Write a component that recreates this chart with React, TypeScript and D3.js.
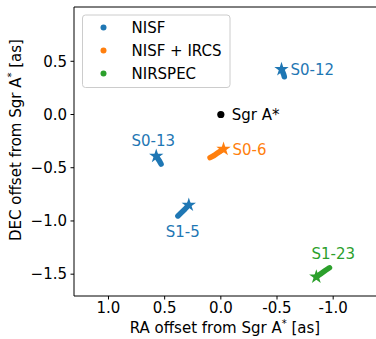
import React from "react";
import * as d3 from "d3";

const W = 376, H = 339;
const margin = { left: 74, top: 7, right: 0, bottom: 296 };

const xDomain = [1.307, -1.39];
const yDomain = [-1.705, 1.01];

const xTicks = [1.0, 0.5, 0.0, -0.5, -1.0];
const xTickLabels = ["1.0", "0.5", "0.0", "-0.5", "-1.0"];
const yTicks = [0.5, 0.0, -0.5, -1.0, -1.5];
const yTickLabels = ["0.5", "0.0", "\u22120.5", "\u22121.0", "\u22121.5"];

const legendNames = ["NISF", "NISF + IRCS", "NIRSPEC"];
const legendColors = ["#1f77b4", "#ff7f0e", "#2ca02c"];

// star names, instrument index, star (current) position, trail points [RA, DEC]
const starNames = ["S0-12", "S0-13", "S1-5", "S0-6", "S1-23"];
const starGroup = [0, 0, 0, 1, 2];
const starRA = [-0.54, 0.575, 0.285, -0.024, -0.85];
const starDEC = [0.425, -0.39, -0.85, -0.325, -1.525];
const trailRA = [
  [-0.54, -0.55, -0.56, -0.565],
  [0.575, 0.56, 0.545, 0.532],
  [0.285, 0.32, 0.355, 0.382],
  [-0.024, 0.02, 0.06, 0.096],
  [-0.85, -0.89, -0.93, -0.967],
];
const trailDEC = [
  [0.425, 0.4, 0.375, 0.355],
  [-0.39, -0.415, -0.44, -0.465],
  [-0.85, -0.89, -0.925, -0.953],
  [-0.325, -0.355, -0.385, -0.405],
  [-1.525, -1.495, -1.465, -1.44],
];
const labelPos = ["right", "above", "below", "right", "above"];

const font = "DejaVu Sans, sans-serif";
const fs = 15;

export default function App() {
  const x = d3.scaleLinear().domain(xDomain).range([margin.left, W + 1]);
  const y = d3.scaleLinear().domain(yDomain).range([margin.bottom, margin.top]);
  const line = d3.line<[number, number]>().x(d => x(d[0])).y(d => y(d[1]));
  const star = d3.symbol().type(d3.symbolStar).size(64)();

  return (
    <svg width={W} height={H} style={{ position: "absolute", left: 0, top: 0 }} fontFamily={font}>
      <rect width={W} height={H} fill="white" />
      {/* trails */}
      {starNames.map((n, i) => {
        const pts = trailRA[i].map((r, j) => [r, trailDEC[i][j]] as [number, number]);
        const c = legendColors[starGroup[i]];
        return (
          <g key={n}>
            <path d={line(pts) || ""} stroke={c} strokeWidth={5.5} fill="none" strokeLinecap="round" strokeLinejoin="round" />
            <path d={star} transform={`translate(${x(starRA[i])},${y(starDEC[i])})`} fill={c} />
          </g>
        );
      })}
      {/* labels */}
      {starNames.map((n, i) => {
        const c = legendColors[starGroup[i]];
        const px = x(starRA[i]), py = y(starDEC[i]);
        let tx = px, ty = py, anchor = "middle";
        if (labelPos[i] === "right") { tx = px + 9; ty = py + 5.5; anchor = "start"; }
        else if (labelPos[i] === "above") { tx = px - 3; ty = py - 10; }
        else { tx = px - 6; ty = py + 32; }
        if (n === "S1-23") { tx = px + 17; ty = py - 18; }
        return (
          <text key={n} x={tx} y={ty} fill={c} fontSize={fs} textAnchor={anchor}>{n}</text>
        );
      })}
      {/* Sgr A* */}
      <circle cx={x(0)} cy={y(0)} r={3.6} fill="black" />
      <text x={x(0) + 11} y={y(0) + 5} fontSize={fs} fill="black">Sgr A*</text>

      {/* axes */}
      <line x1={margin.left} x2={margin.left} y1={margin.top} y2={margin.bottom} stroke="black" strokeWidth={1} />
      <line x1={margin.left} x2={W} y1={margin.top} y2={margin.top} stroke="black" strokeWidth={1} />
      <line x1={margin.left} x2={W} y1={margin.bottom} y2={margin.bottom} stroke="black" strokeWidth={1} />
      {xTicks.map((t, i) => (
        <g key={i}>
          <line x1={x(t)} x2={x(t)} y1={margin.bottom} y2={margin.bottom + 3.5} stroke="black" />
          <text x={x(t)} y={margin.bottom + 16.5} fontSize={fs} textAnchor="middle">{xTickLabels[i]}</text>
        </g>
      ))}
      {yTicks.map((t, i) => (
        <g key={i}>
          <line x1={margin.left - 3.5} x2={margin.left} y1={y(t)} y2={y(t)} stroke="black" />
          <text x={margin.left - 7} y={y(t) + 5.3} fontSize={fs} textAnchor="end">{yTickLabels[i]}</text>
        </g>
      ))}
      <text x={(margin.left + W) / 2} y={333} fontSize={fs} textAnchor="middle">
        RA offset from Sgr A<tspan dy={-6} fontSize={10}>*</tspan><tspan dy={6}> [as]</tspan>
      </text>
      <text transform={`translate(21,140) rotate(-90)`} fontSize={fs} textAnchor="middle">
        DEC offset from Sgr A<tspan dy={-6} fontSize={10}>*</tspan><tspan dy={6}> [as]</tspan>
      </text>

      {/* legend */}
      <rect x={82.5} y={15} width={147.5} height={72.5} rx={3} fill="white" fillOpacity={0.8} stroke="#cccccc" />
      {legendNames.map((n, i) => (
        <g key={n}>
          <circle cx={103.5} cy={27.5 + i * 23} r={3} fill={legendColors[i]} />
          <text x={131.5} y={27.5 + i * 23 + 5.3} fontSize={fs}>{n}</text>
        </g>
      ))}
    </svg>
  );
}
